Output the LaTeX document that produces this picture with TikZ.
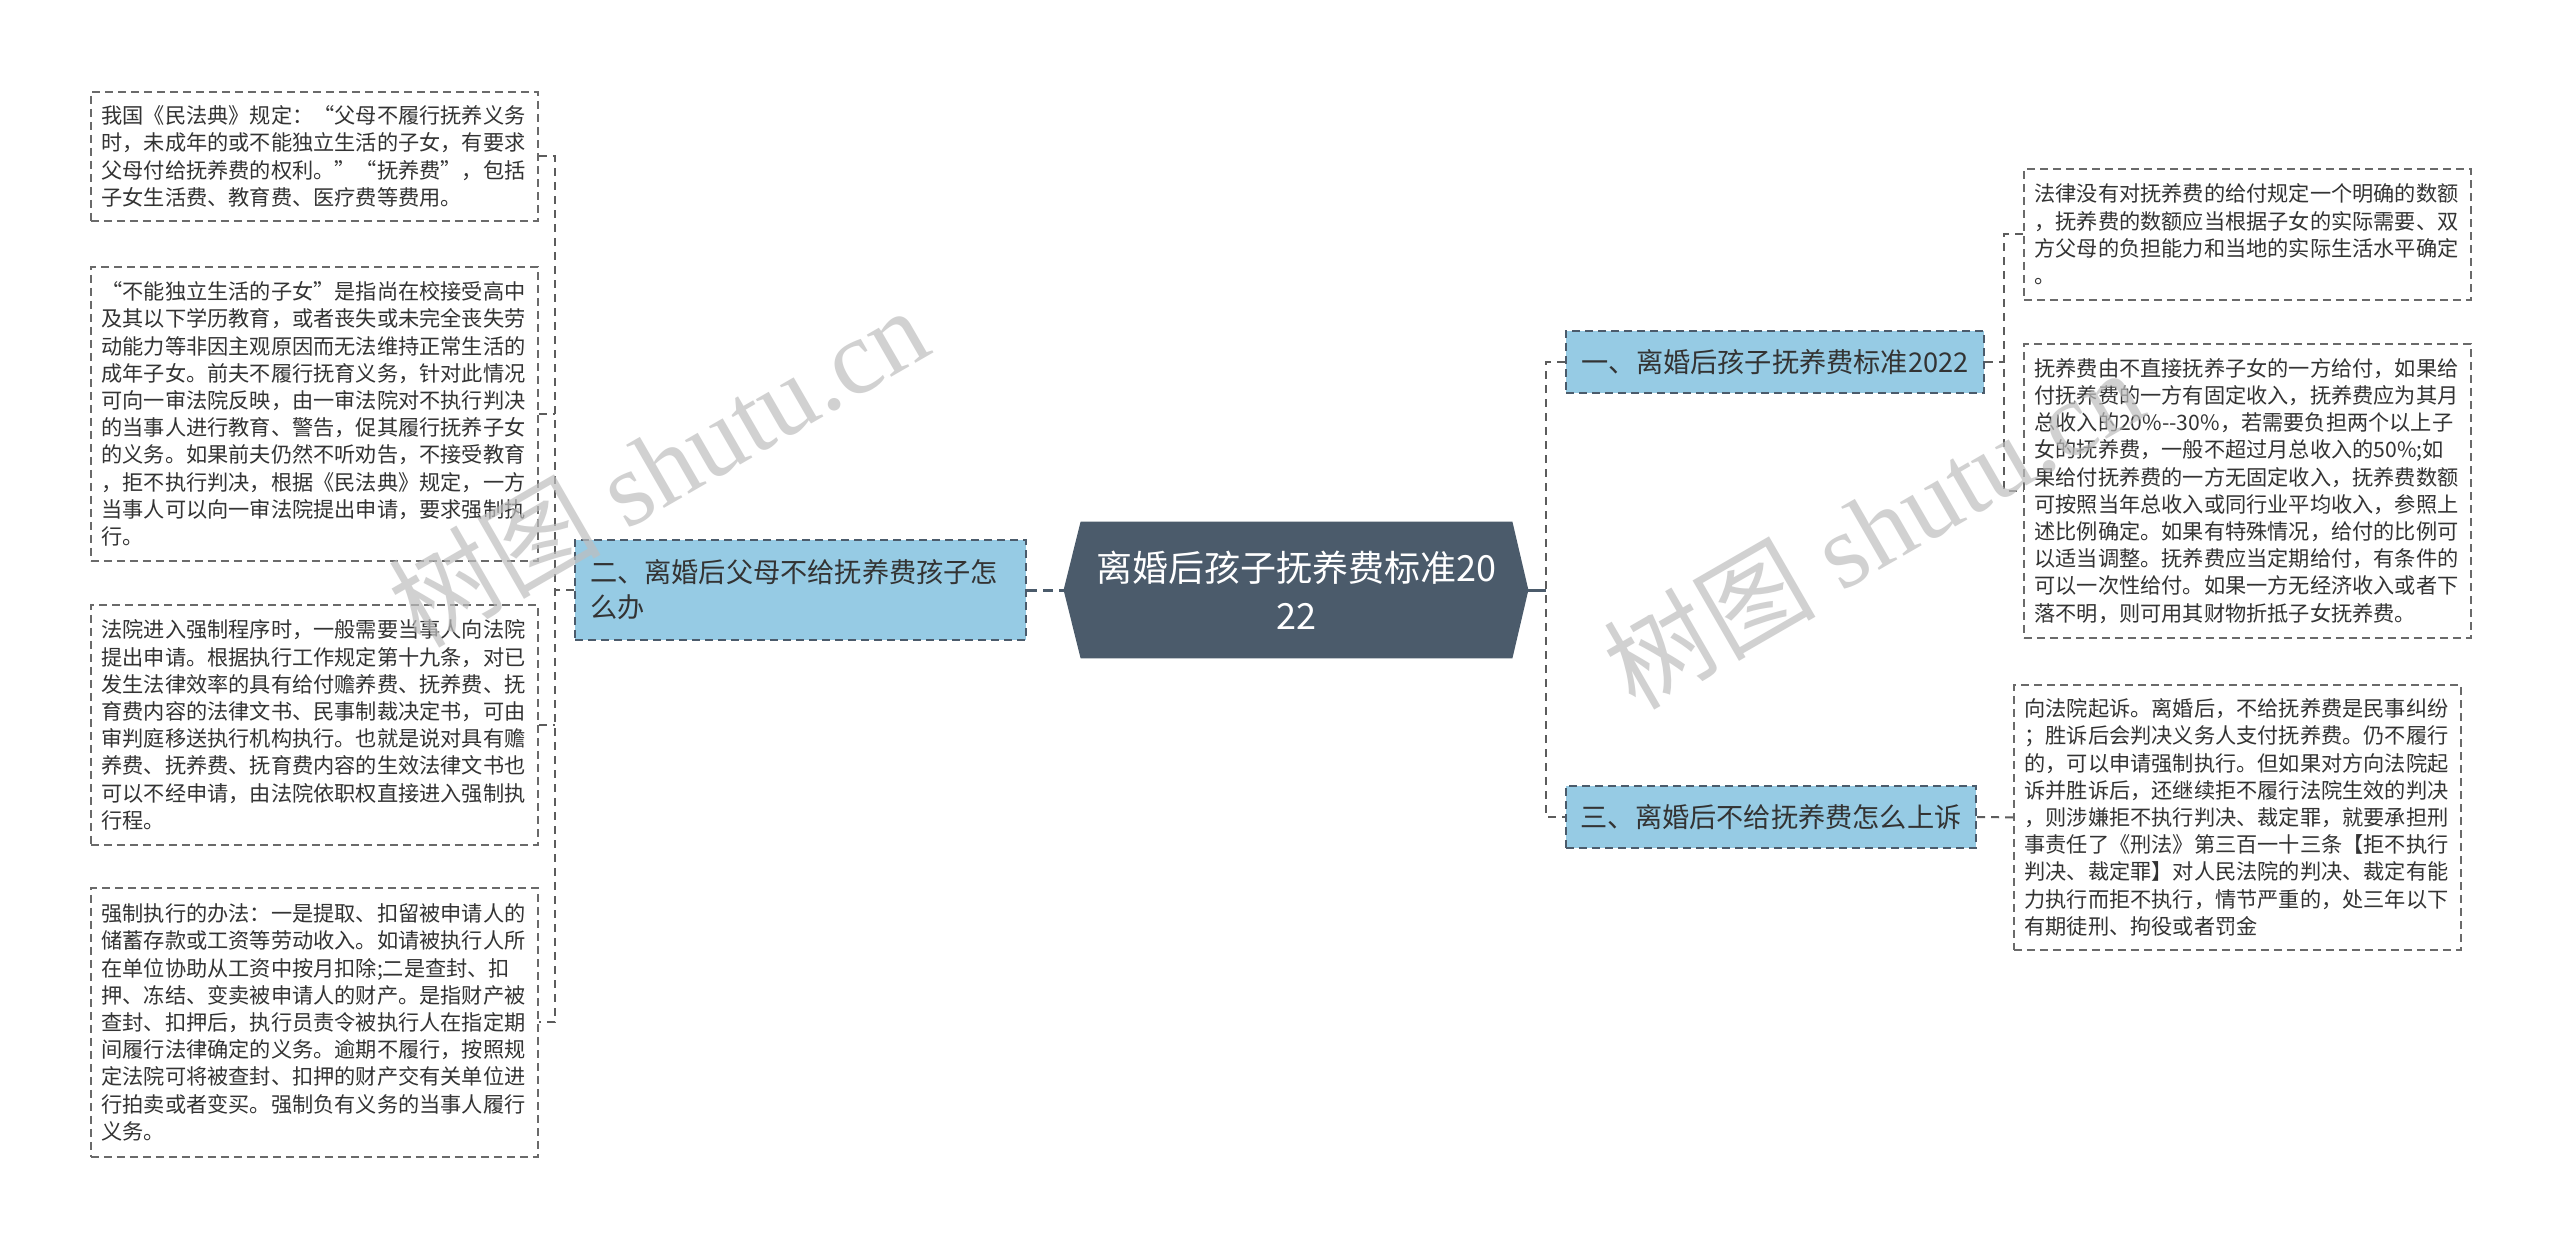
\documentclass[tikz,border=0pt]{standalone}
\usepackage{fontspec}
\newfontfamily\cjk{Noto Sans CJK SC}
\newfontfamily\wmlat{Liberation Serif}
\usetikzlibrary{backgrounds}
\definecolor{darkfill}{HTML}{4B5B6B}
\definecolor{lblue}{HTML}{96CBE4}
\definecolor{linec}{HTML}{5C5C5C}
\definecolor{boxline}{HTML}{6A6A6A}
\definecolor{txt}{HTML}{333333}
\definecolor{wm}{HTML}{BEBEBE}
\begin{document}
\begin{tikzpicture}[x=0.5pt,y=-0.5pt,
  textbox/.style={draw=boxline, line width=0.9pt, dash pattern=on 4pt off 2.5pt, fill=white,
    font={\cjk\fontsize{10.6pt}{13.6pt}\selectfont}, text=txt, align=left,
    text width=213pt, inner xsep=5.25pt, inner ysep=0pt, anchor=north west},
  branch/.style={draw=darkfill, line width=1pt, dash pattern=on 4pt off 2.5pt, fill=lblue,
    text=txt, inner sep=0pt},
  conn/.style={draw=linec, line width=1pt, dash pattern=on 4pt off 3pt},
  mainconn/.style={draw=darkfill, line width=1.5pt},
  wmstyle/.style={text=wm, text opacity=0.7, inner sep=0pt, font={\wmlat\fontsize{53pt}{53pt}\selectfont}}
]
\begin{pgfonlayer}{background}
\fill[white] (0,0) rectangle (2560,1248);
\end{pgfonlayer}
\useasboundingbox (0,0) rectangle (2560,1248);

% left detail boxes
\node[textbox, minimum height=64.5pt] (l1) at (90,91) {我国《民法典》规定：“父母不履行抚养义务\\时，未成年的或不能独立生活的子女，有要求\\父母付给抚养费的权利。”“抚养费”，包括\\子女生活费、教育费、医疗费等费用。};
\node[textbox, minimum height=147pt] (l2) at (90,266) {“不能独立生活的子女”是指尚在校接受高中\\及其以下学历教育，或者丧失或未完全丧失劳\\动能力等非因主观原因而无法维持正常生活的\\成年子女。前夫不履行抚育义务，针对此情况\\可向一审法院反映，由一审法院对不执行判决\\的当事人进行教育、警告，促其履行抚养子女\\的义务。如果前夫仍然不听劝告，不接受教育\\，拒不执行判决，根据《民法典》规定，一方\\当事人可以向一审法院提出申请，要求强制执\\行。};
\node[textbox, minimum height=120pt] (l3) at (90,604) {法院进入强制程序时，一般需要当事人向法院\\提出申请。根据执行工作规定第十九条，对已\\发生法律效率的具有给付赡养费、抚养费、抚\\育费内容的法律文书、民事制裁决定书，可由\\审判庭移送执行机构执行。也就是说对具有赡\\养费、抚养费、抚育费内容的生效法律文书也\\可以不经申请，由法院依职权直接进入强制执\\行程。};
\node[textbox, minimum height=134.5pt] (l4) at (90,887) {强制执行的办法：一是提取、扣留被申请人的\\储蓄存款或工资等劳动收入。如请被执行人所\\在单位协助从工资中按月扣除;二是查封、扣\\押、冻结、变卖被申请人的财产。是指财产被\\查封、扣押后，执行员责令被执行人在指定期\\间履行法律确定的义务。逾期不履行，按照规\\定法院可将被查封、扣押的财产交有关单位进\\行拍卖或者变买。强制负有义务的当事人履行\\义务。};

% right detail boxes
\node[textbox, minimum height=65.5pt] (r1) at (2023,168) {法律没有对抚养费的给付规定一个明确的数额\\，抚养费的数额应当根据子女的实际需要、双\\方父母的负担能力和当地的实际生活水平确定\\。};
\node[textbox, minimum height=147pt] (r2) at (2023,343) {抚养费由不直接抚养子女的一方给付，如果给\\付抚养费的一方有固定收入，抚养费应为其月\\总收入的20\%-{}-30\%，若需要负担两个以上子\\女的抚养费，一般不超过月总收入的50\%;如\\果给付抚养费的一方无固定收入，抚养费数额\\可按照当年总收入或同行业平均收入，参照上\\述比例确定。如果有特殊情况，给付的比例可\\以适当调整。抚养费应当定期给付，有条件的\\可以一次性给付。如果一方无经济收入或者下\\落不明，则可用其财物折抵子女抚养费。};
\node[textbox, minimum height=132.5pt] (r3) at (2013,684) {向法院起诉。离婚后，不给抚养费是民事纠纷\\；胜诉后会判决义务人支付抚养费。仍不履行\\的，可以申请强制执行。但如果对方向法院起\\诉并胜诉后，还继续拒不履行法院生效的判决\\，则涉嫌拒不执行判决、裁定罪，就要承担刑\\事责任了《刑法》第三百一十三条【拒不执行\\判决、裁定罪】对人民法院的判决、裁定有能\\力执行而拒不执行，情节严重的，处三年以下\\有期徒刑、拘役或者罚金};

% branch nodes
\node[branch, minimum width=225.5pt, minimum height=50pt, align=left, text width=210.5pt, inner xsep=7.5pt,
  font={\cjk\fontsize{13.6pt}{17.5pt}\selectfont}] (n2) at (800.5,590) {二、离婚后父母不给抚养费孩子怎\\么办};
\node[branch, minimum width=209pt, minimum height=31pt, align=center,
  font={\cjk\fontsize{13.6pt}{16pt}\selectfont}] (n1) at (1775,362) {一、离婚后孩子抚养费标准2022};
\node[branch, minimum width=205pt, minimum height=31pt, align=center,
  font={\cjk\fontsize{13.6pt}{16pt}\selectfont}] (n3) at (1771,817) {三、离婚后不给抚养费怎么上诉};

% central node
\node[font={\cjk\fontsize{18pt}{24pt}\selectfont}, text=white, align=center,
  minimum width=215.5pt, minimum height=68pt, inner sep=0pt] (c) at (1296.5,590) {离婚后孩子抚养费标准20\\22};
\coordinate (cl) at ([xshift=-8.5pt]c.west);
\coordinate (cr) at ([xshift=8pt]c.east);
\begin{pgfonlayer}{background}
\fill[darkfill] (c.north west) -- (c.north east) -- (cr) -- (c.south east) -- (c.south west) -- (cl) -- cycle;
\end{pgfonlayer}

% connectors
\coordinate (lv) at (555,590);
\draw[conn] (n2.west) -- (lv);
\draw[conn] (l1.east) -- (l1.east -| lv) -- (l4.east -| lv) -- (l4.east);
\draw[conn] (l2.east) -- (l2.east -| lv);
\draw[conn] (l3.east) -- (l3.east -| lv);
\draw[mainconn, dash pattern=on 5pt off 3pt] (n2.east) -- (cl);
\coordinate (rv) at (1546,590);
\draw[mainconn] (cr) -- (rv);
\draw[conn] (n1.west) -- (n1.west -| rv) -- (n3.west -| rv) -- (n3.west);
\coordinate (rrv) at (2004,362);
\draw[conn] (n1.east) -- (rrv);
\draw[conn] (r1.west) -- (r1.west -| rrv) -- (r2.west -| rrv) -- (r2.west);
\draw[conn] (n3.east) -- (r3.west);

% watermark
\node[wmstyle, rotate=30, anchor=base west] (wm1) at (420,650) {{\cjk 树图} shutu.cn};
\node[wmstyle, rotate=30, anchor=base west] (wm2) at (1635,712) {{\cjk 树图} shutu.cn};
\end{tikzpicture}
\end{document}
